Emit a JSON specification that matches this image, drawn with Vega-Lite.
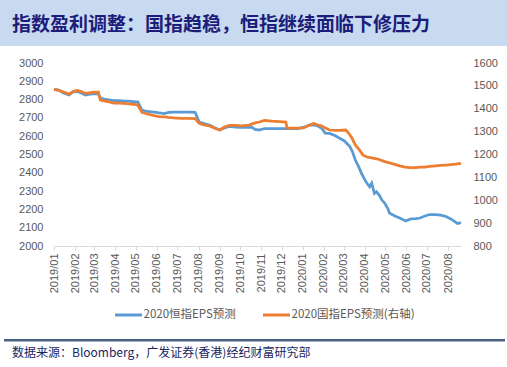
{
  "$schema": "https://vega.github.io/schema/vega-lite/v6.json",
  "padding": 0,
  "background": "white",
  "spacing": 11,
  "resolve": {"legend": {"color": "independent"}},
  "datasets": {
    "hsi": [
      {"d": "2019-01-01", "v": 2856}, {"d": "2019-01-08", "v": 2852}, {"d": "2019-01-15", "v": 2836}, {"d": "2019-01-23", "v": 2825},
      {"d": "2019-01-29", "v": 2842}, {"d": "2019-02-04", "v": 2844}, {"d": "2019-02-10", "v": 2836}, {"d": "2019-02-16", "v": 2825},
      {"d": "2019-02-21", "v": 2828}, {"d": "2019-03-01", "v": 2833}, {"d": "2019-03-07", "v": 2831}, {"d": "2019-03-10", "v": 2809},
      {"d": "2019-03-15", "v": 2803}, {"d": "2019-03-23", "v": 2798}, {"d": "2019-03-30", "v": 2795}, {"d": "2019-04-07", "v": 2795},
      {"d": "2019-04-14", "v": 2792}, {"d": "2019-04-21", "v": 2792}, {"d": "2019-04-29", "v": 2787}, {"d": "2019-05-04", "v": 2787},
      {"d": "2019-05-10", "v": 2743}, {"d": "2019-05-18", "v": 2735}, {"d": "2019-05-28", "v": 2732}, {"d": "2019-06-04", "v": 2727},
      {"d": "2019-06-12", "v": 2724}, {"d": "2019-06-18", "v": 2730}, {"d": "2019-06-26", "v": 2732}, {"d": "2019-07-07", "v": 2732},
      {"d": "2019-07-18", "v": 2732}, {"d": "2019-07-27", "v": 2730}, {"d": "2019-08-02", "v": 2678}, {"d": "2019-08-09", "v": 2669},
      {"d": "2019-08-17", "v": 2661}, {"d": "2019-08-24", "v": 2648}, {"d": "2019-09-01", "v": 2634}, {"d": "2019-09-08", "v": 2645},
      {"d": "2019-09-15", "v": 2653}, {"d": "2019-09-24", "v": 2650}, {"d": "2019-10-03", "v": 2648}, {"d": "2019-10-12", "v": 2648},
      {"d": "2019-10-18", "v": 2650}, {"d": "2019-10-23", "v": 2637}, {"d": "2019-10-29", "v": 2634}, {"d": "2019-11-06", "v": 2642},
      {"d": "2019-11-16", "v": 2642}, {"d": "2019-11-28", "v": 2642}, {"d": "2019-12-07", "v": 2642}, {"d": "2019-12-15", "v": 2642},
      {"d": "2019-12-24", "v": 2642}, {"d": "2020-01-02", "v": 2648}, {"d": "2020-01-11", "v": 2661}, {"d": "2020-01-17", "v": 2662},
      {"d": "2020-01-23", "v": 2656}, {"d": "2020-01-28", "v": 2645}, {"d": "2020-02-03", "v": 2617}, {"d": "2020-02-09", "v": 2615},
      {"d": "2020-02-17", "v": 2604}, {"d": "2020-02-24", "v": 2589}, {"d": "2020-03-02", "v": 2574}, {"d": "2020-03-10", "v": 2543},
      {"d": "2020-03-14", "v": 2514}, {"d": "2020-03-18", "v": 2470}, {"d": "2020-03-23", "v": 2432}, {"d": "2020-03-27", "v": 2397},
      {"d": "2020-04-01", "v": 2361}, {"d": "2020-04-04", "v": 2343}, {"d": "2020-04-08", "v": 2324}, {"d": "2020-04-11", "v": 2344},
      {"d": "2020-04-15", "v": 2288}, {"d": "2020-04-18", "v": 2297}, {"d": "2020-04-23", "v": 2273}, {"d": "2020-04-26", "v": 2251},
      {"d": "2020-04-30", "v": 2235}, {"d": "2020-05-05", "v": 2202}, {"d": "2020-05-07", "v": 2180}, {"d": "2020-05-15", "v": 2164},
      {"d": "2020-05-22", "v": 2153}, {"d": "2020-05-31", "v": 2137}, {"d": "2020-06-07", "v": 2148}, {"d": "2020-06-15", "v": 2150},
      {"d": "2020-06-21", "v": 2153}, {"d": "2020-06-28", "v": 2164}, {"d": "2020-07-05", "v": 2172}, {"d": "2020-07-14", "v": 2172},
      {"d": "2020-07-21", "v": 2169}, {"d": "2020-07-29", "v": 2161}, {"d": "2020-08-05", "v": 2148}, {"d": "2020-08-12", "v": 2131},
      {"d": "2020-08-15", "v": 2123}, {"d": "2020-08-20", "v": 2128}
    ],
    "hscei": [
      {"d": "2019-01-01", "v": 1486}, {"d": "2019-01-08", "v": 1480}, {"d": "2019-01-15", "v": 1473}, {"d": "2019-01-23", "v": 1464},
      {"d": "2019-01-29", "v": 1475}, {"d": "2019-02-04", "v": 1480}, {"d": "2019-02-10", "v": 1475}, {"d": "2019-02-16", "v": 1467},
      {"d": "2019-02-21", "v": 1469}, {"d": "2019-03-01", "v": 1473}, {"d": "2019-03-07", "v": 1473}, {"d": "2019-03-10", "v": 1438},
      {"d": "2019-03-15", "v": 1434}, {"d": "2019-03-23", "v": 1430}, {"d": "2019-03-30", "v": 1425}, {"d": "2019-04-07", "v": 1425},
      {"d": "2019-04-14", "v": 1423}, {"d": "2019-04-21", "v": 1421}, {"d": "2019-04-29", "v": 1419}, {"d": "2019-05-04", "v": 1416},
      {"d": "2019-05-10", "v": 1384}, {"d": "2019-05-18", "v": 1377}, {"d": "2019-05-28", "v": 1370}, {"d": "2019-06-04", "v": 1366},
      {"d": "2019-06-12", "v": 1364}, {"d": "2019-06-18", "v": 1362}, {"d": "2019-06-26", "v": 1360}, {"d": "2019-07-07", "v": 1358},
      {"d": "2019-07-18", "v": 1358}, {"d": "2019-07-27", "v": 1357}, {"d": "2019-08-02", "v": 1336}, {"d": "2019-08-09", "v": 1329},
      {"d": "2019-08-17", "v": 1325}, {"d": "2019-08-24", "v": 1316}, {"d": "2019-09-01", "v": 1307}, {"d": "2019-09-08", "v": 1320},
      {"d": "2019-09-15", "v": 1327}, {"d": "2019-09-24", "v": 1327}, {"d": "2019-10-03", "v": 1325}, {"d": "2019-10-12", "v": 1327},
      {"d": "2019-10-18", "v": 1333}, {"d": "2019-10-23", "v": 1338}, {"d": "2019-10-29", "v": 1342}, {"d": "2019-11-06", "v": 1349},
      {"d": "2019-11-16", "v": 1346}, {"d": "2019-11-28", "v": 1344}, {"d": "2019-12-07", "v": 1342}, {"d": "2019-12-09", "v": 1316},
      {"d": "2019-12-15", "v": 1315}, {"d": "2019-12-24", "v": 1315}, {"d": "2020-01-02", "v": 1316}, {"d": "2020-01-11", "v": 1329},
      {"d": "2020-01-17", "v": 1336}, {"d": "2020-01-23", "v": 1329}, {"d": "2020-01-28", "v": 1325}, {"d": "2020-02-03", "v": 1316},
      {"d": "2020-02-09", "v": 1307}, {"d": "2020-02-17", "v": 1305}, {"d": "2020-02-24", "v": 1305}, {"d": "2020-03-04", "v": 1307},
      {"d": "2020-03-08", "v": 1294}, {"d": "2020-03-13", "v": 1272}, {"d": "2020-03-18", "v": 1242}, {"d": "2020-03-24", "v": 1220},
      {"d": "2020-03-29", "v": 1198}, {"d": "2020-04-04", "v": 1189}, {"d": "2020-04-11", "v": 1185}, {"d": "2020-04-20", "v": 1180},
      {"d": "2020-04-30", "v": 1169}, {"d": "2020-05-10", "v": 1161}, {"d": "2020-05-22", "v": 1150}, {"d": "2020-05-30", "v": 1145},
      {"d": "2020-06-06", "v": 1143}, {"d": "2020-06-13", "v": 1143}, {"d": "2020-06-21", "v": 1145}, {"d": "2020-06-28", "v": 1145},
      {"d": "2020-07-05", "v": 1148}, {"d": "2020-07-14", "v": 1150}, {"d": "2020-07-21", "v": 1152}, {"d": "2020-07-29", "v": 1154},
      {"d": "2020-08-05", "v": 1156}, {"d": "2020-08-12", "v": 1158}, {"d": "2020-08-20", "v": 1161}
    ]
  },
  "config": {
    "view": {"stroke": null},
    "axis": {"labelFont": "Liberation Sans", "labelFontSize": 11, "labelColor": "#595959", "grid": false}
  },
  "vconcat": [
    {
      "width": 453,
      "height": 46,
      "data": {"values": [{"t": "指数盈利调整：国指趋稳，恒指继续面临下修压力"}]},
      "layer": [
        {
          "mark": {"type": "rect", "color": "#C8DAF0"},
          "encoding": {
            "x": {"datum": 0, "type": "quantitative", "scale": {"domain": [54, 507], "nice": false, "zero": false}, "axis": null},
            "x2": {"datum": 507},
            "y": {"datum": 0, "type": "quantitative", "scale": {"domain": [0, 46], "reverse": true, "nice": false, "zero": false}, "axis": null},
            "y2": {"datum": 46}
          }
        },
        {
          "mark": {"type": "text", "align": "left", "baseline": "middle", "font": "Noto Sans CJK SC", "fontWeight": "bold", "fontSize": 19, "color": "#1C1C7A"},
          "encoding": {
            "text": {"field": "t"},
            "x": {"datum": 12, "type": "quantitative"},
            "y": {"datum": 25, "type": "quantitative"}
          }
        }
      ]
    },
    {
      "width": 407,
      "height": 183,
      "layer": [
        {
          "data": {"name": "hsi"},
          "mark": {"type": "line", "strokeWidth": 2.75},
          "encoding": {
            "x": {
              "field": "d", "type": "temporal",
              "scale": {"domain": [{"year": 2019, "month": 1, "date": 1}, {"year": 2020, "month": 8, "date": 20}]},
              "axis": {"title": null, "format": "%Y/%m", "tickCount": {"interval": "month", "step": 1}, "labelAngle": 270, "labelAlign": "right", "labelBaseline": "middle", "labelPadding": 3, "tickSize": 4, "domainColor": "#D9D9D9", "tickColor": "#D9D9D9", "labelOverlap": false, "labelFlush": false}
            },
            "y": {
              "field": "v", "type": "quantitative",
              "scale": {"domain": [2000, 3000], "nice": false, "zero": false},
              "axis": {"title": null, "format": "d", "values": [2000, 2100, 2200, 2300, 2400, 2500, 2600, 2700, 2800, 2900, 3000], "labelPadding": 11, "domain": false, "ticks": false}
            },
            "color": {
              "datum": "2020恒指EPS预测",
              "scale": {"domain": ["2020恒指EPS预测", "2020国指EPS预测(右轴)"], "range": ["#5B9BD5", "#ED7D31"]},
              "legend": {"orient": "none", "legendX": 59.5, "legendY": 237, "direction": "horizontal", "title": null, "symbolType": "stroke", "symbolSize": 729, "symbolStrokeWidth": 3, "labelFont": "Noto Sans CJK SC", "labelFontSize": 11.5, "labelColor": "#595959", "labelOffset": 0, "columnPadding": 20}
            }
          }
        },
        {
          "data": {"name": "hscei"},
          "mark": {"type": "line", "strokeWidth": 2.75},
          "encoding": {
            "x": {"field": "d", "type": "temporal"},
            "y": {
              "field": "v", "type": "quantitative",
              "scale": {"domain": [800, 1600], "nice": false, "zero": false},
              "axis": {"orient": "right", "title": null, "format": "d", "values": [800, 900, 1000, 1100, 1200, 1300, 1400, 1500, 1600], "labelPadding": 12, "domain": false, "ticks": false}
            },
            "color": {"datum": "2020国指EPS预测(右轴)"}
          }
        }
      ],
      "resolve": {"scale": {"y": "independent"}}
    },
    {
      "width": 453,
      "height": 30,
      "data": {"values": [{"src": "数据来源：Bloomberg，广发证券(香港)经纪财富研究部"}]},
      "layer": [
        {
          "mark": {"type": "rect", "color": "#4A6282"},
          "encoding": {
            "x": {"datum": 4, "type": "quantitative", "scale": {"domain": [54, 507], "nice": false, "zero": false}, "axis": null},
            "x2": {"datum": 505},
            "y": {"datum": 7, "type": "quantitative", "scale": {"domain": [0, 30], "reverse": true, "nice": false, "zero": false}, "axis": null},
            "y2": {"datum": 9.5}
          }
        },
        {
          "mark": {"type": "text", "align": "left", "baseline": "middle", "font": "Noto Sans CJK SC", "fontSize": 12, "color": "#1A1F5E"},
          "encoding": {
            "text": {"field": "src"},
            "x": {"datum": 12, "type": "quantitative"},
            "y": {"datum": 21, "type": "quantitative"}
          }
        }
      ]
    }
  ]
}
